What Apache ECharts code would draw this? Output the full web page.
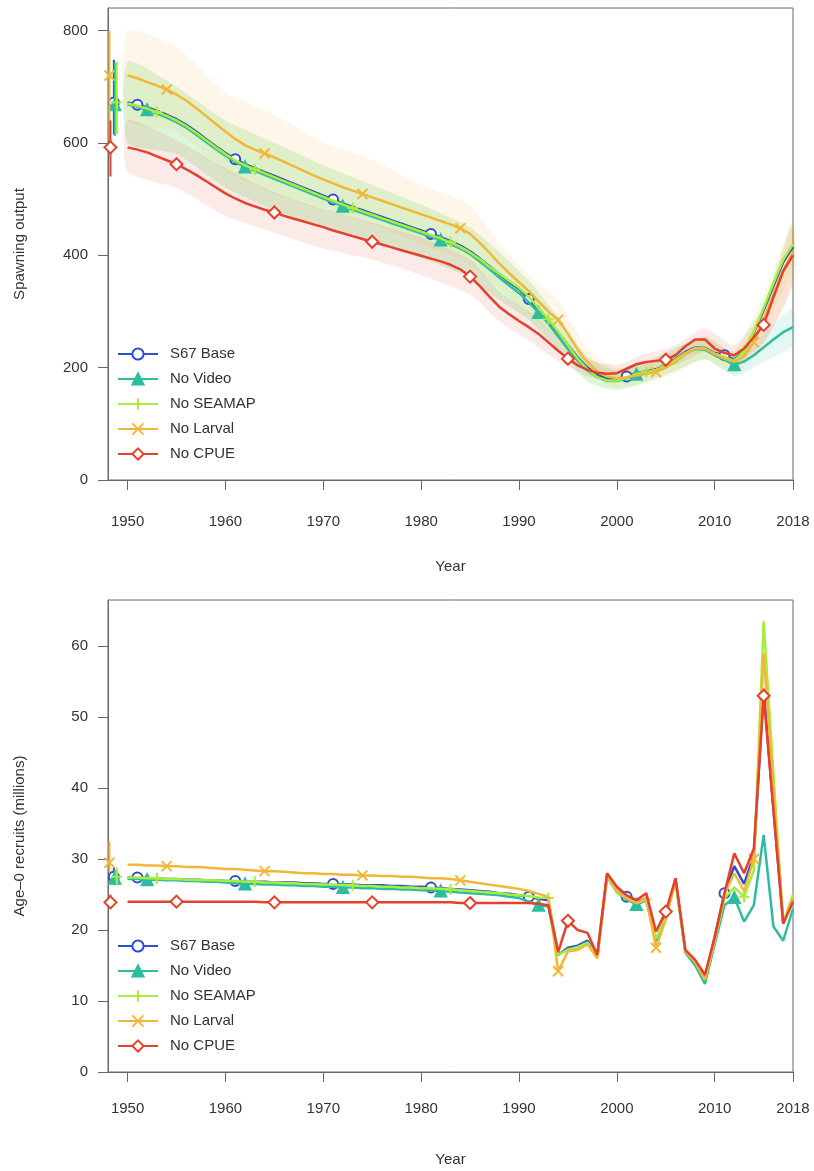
<!DOCTYPE html>
<html lang="en">
<head>
<meta charset="UTF-8" />
<title>Spawning output and recruits</title>
<script src="https://cdn.jsdelivr.net/npm/echarts@6/dist/echarts.min.js"></script>
<style>
  html, body { margin: 0; padding: 0; background: #fff; }
  #main { width: 814px; height: 1171px; }
</style>
</head>
<body>
<div id="main"></div>
<script type="text/javascript">
// model runs
var names = ['S67 Base', 'No Video', 'No SEAMAP', 'No Larval', 'No CPUE'];
var colors = ['#2c50cc', '#2cbd9e', '#a6ee3a', '#f2b63a', '#e6402c'];

var years = [1950, 1951, 1952, 1953, 1954, 1955, 1956, 1957, 1958, 1959,
  1960, 1961, 1962, 1963, 1964, 1965, 1966, 1967, 1968, 1969,
  1970, 1971, 1972, 1973, 1974, 1975, 1976, 1977, 1978, 1979,
  1980, 1981, 1982, 1983, 1984, 1985, 1986, 1987, 1988, 1989,
  1990, 1991, 1992, 1993, 1994, 1995, 1996, 1997, 1998, 1999,
  2000, 2001, 2002, 2003, 2004, 2005, 2006, 2007, 2008, 2009,
  2010, 2011, 2012, 2013, 2014, 2015, 2016, 2017, 2018];

// years where each run gets a point marker
var markYears = [
  [1951, 1961, 1971, 1981, 1991, 2001, 2011],
  [1952, 1962, 1972, 1982, 1992, 2002, 2012],
  [1953, 1963, 1973, 1983, 1993, 2003, 2013],
  [1954, 1964, 1974, 1984, 1994, 2004, 2014],
  [1955, 1965, 1975, 1985, 1995, 2005, 2015]
];

// --- spawning output ---
var spawnBase = [672, 668, 663, 657, 650, 642, 632, 620, 607, 594,
  582, 571, 562, 555, 548, 541, 534, 527, 520, 513,
  506, 499, 492, 486, 480, 474, 468, 462, 456, 450,
  444, 438, 432, 425, 417, 407, 394, 380, 366, 352,
  340, 322, 302, 282, 262, 240, 218, 200, 187, 180,
  180, 184, 190, 193, 197, 205, 215, 228, 236, 235,
  226, 222, 214, 230, 262, 302, 345, 388, 415];
var spawnVideo = [668, 664, 659, 652, 645, 637, 627, 615, 602, 589,
  577, 566, 557, 550, 543, 536, 529, 522, 515, 508,
  501, 494, 487, 481, 475, 469, 463, 457, 451, 445,
  439, 433, 427, 420, 412, 402, 389, 375, 360, 346,
  333, 316, 298, 278, 256, 233, 212, 195, 183, 176,
  176, 181, 188, 191, 195, 203, 213, 225, 233, 232,
  222, 214, 205, 211, 222, 236, 250, 263, 272];
var spawnSeamap = [670, 666, 661, 655, 648, 640, 630, 618, 605, 592,
  580, 569, 560, 553, 546, 539, 532, 525, 518, 511,
  504, 497, 490, 484, 478, 472, 466, 460, 454, 448,
  442, 436, 430, 423, 415, 405, 393, 379, 367, 354,
  342, 326, 306, 286, 264, 240, 216, 197, 183, 177,
  177, 182, 189, 192, 196, 204, 214, 226, 235, 234,
  225, 219, 212, 230, 264, 306, 350, 392, 420];
var spawnLarval = [720, 715, 708, 702, 695, 686, 675, 662, 648, 634,
  620, 607, 596, 588, 581, 574, 566, 558, 550, 542,
  535, 528, 521, 515, 509, 503, 497, 491, 485, 479,
  473, 467, 461, 455, 448, 438, 422, 404, 385, 368,
  352, 336, 318, 300, 285, 260, 232, 210, 193, 184,
  181, 183, 186, 189, 192, 200, 210, 224, 234, 234,
  224, 216, 210, 220, 245, 285, 330, 372, 405];
var spawnCpue = [592, 588, 583, 576, 569, 562, 553, 543, 532, 521,
  510, 501, 493, 487, 481, 476, 470, 465, 460, 455,
  450, 444, 439, 434, 429, 424, 419, 414, 409, 404,
  399, 394, 389, 383, 375, 362, 345, 326, 308, 295,
  283, 272, 260, 245, 230, 216, 204, 196, 191, 189,
  190, 198, 206, 210, 212, 214, 222, 238, 250, 250,
  234, 226, 222, 234, 254, 276, 325, 372, 400];

// confidence bands (sparser years)
var bandYears = [1950, 1955, 1960, 1965, 1970, 1975, 1980, 1985, 1988, 1991,
  1994, 1997, 2000, 2003, 2006, 2009, 2012, 2015, 2018];
var videoLo  = [600, 580, 520, 480, 450, 425, 395, 360, 320, 285, 230, 175, 160, 175, 195, 215, 185, 210, 240];
var videoHi  = [745, 700, 640, 600, 560, 525, 490, 450, 405, 355, 290, 220, 195, 210, 235, 255, 225, 262, 305];
var seamapLo = [600, 580, 520, 480, 450, 425, 395, 360, 320, 285, 230, 175, 160, 175, 195, 215, 190, 270, 380];
var seamapHi = [745, 700, 640, 600, 560, 525, 490, 450, 405, 355, 290, 220, 195, 210, 235, 255, 230, 330, 460];
var larvalLo = [640, 620, 550, 510, 480, 455, 420, 385, 340, 295, 250, 190, 165, 172, 190, 215, 190, 240, 350];
var larvalHi = [800, 770, 690, 650, 600, 570, 525, 490, 420, 365, 320, 235, 200, 212, 230, 255, 230, 310, 465];
var cpueLo   = [548, 520, 470, 440, 412, 392, 365, 330, 282, 248, 212, 185, 175, 195, 205, 228, 205, 245, 350];
var cpueHi   = [640, 605, 555, 512, 482, 458, 432, 392, 335, 300, 255, 215, 205, 225, 240, 270, 240, 310, 455];

// virgin spawning output (value, low, high) plotted left of 1950
var virginX = [1948.6, 1948.7, 1948.9, 1948.15, 1948.25];
var spawnVirgin = [672, 668, 672, 720, 592];
var spawnVirginLo = [615, 612, 616, 604, 540];
var spawnVirginHi = [748, 742, 745, 800, 640];

// --- age-0 recruits (millions) ---
var recBase = [27.4, 27.4, 27.3, 27.3, 27.2, 27.2, 27.1, 27.1, 27.0, 27.0,
  26.9, 26.9, 26.8, 26.8, 26.8, 26.7, 26.7, 26.7, 26.6, 26.6,
  26.5, 26.5, 26.4, 26.4, 26.3, 26.3, 26.3, 26.2, 26.2, 26.1,
  26.1, 26.0, 25.9, 25.8, 25.7, 25.6, 25.5, 25.4, 25.2, 25.1,
  24.9, 24.7, 24.4, 24.2, 16.5, 17.5, 17.8, 18.5, 16.3, 27.8,
  25.5, 24.7, 24.0, 24.5, 18.5, 22.0, 27.2, 17.0, 15.6, 13.2,
  19.0, 25.2, 29.0, 26.5, 30.5, 54.0, 37.0, 21.0, 24.5];
var recVideo = [27.2, 27.2, 27.1, 27.1, 27.0, 27.0, 26.9, 26.9, 26.8, 26.8,
  26.7, 26.6, 26.5, 26.5, 26.4, 26.4, 26.3, 26.3, 26.2, 26.2,
  26.1, 26.1, 26.0, 26.0, 25.9, 25.9, 25.8, 25.8, 25.7, 25.7,
  25.6, 25.6, 25.5, 25.4, 25.3, 25.2, 25.1, 25.0, 24.9, 24.7,
  24.5, 24.0, 23.5, 23.3, 16.5, 17.3, 17.6, 18.3, 16.2, 27.5,
  25.3, 24.3, 23.6, 24.2, 18.5, 21.7, 27.0, 16.8, 15.0, 12.4,
  18.0, 23.5, 24.6, 21.2, 23.5, 33.4, 20.5, 18.5, 23.0];
var recSeamap = [27.4, 27.4, 27.3, 27.3, 27.2, 27.2, 27.1, 27.1, 27.0, 27.0,
  26.9, 26.9, 26.8, 26.8, 26.7, 26.7, 26.6, 26.6, 26.5, 26.5,
  26.4, 26.4, 26.3, 26.3, 26.2, 26.2, 26.1, 26.1, 26.0, 26.0,
  25.9, 25.9, 25.8, 25.7, 25.6, 25.5, 25.4, 25.3, 25.2, 25.0,
  24.9, 24.8, 24.6, 24.5, 16.5, 17.2, 17.6, 18.2, 16.2, 27.6,
  25.3, 24.5, 23.8, 24.3, 18.8, 21.8, 27.0, 17.0, 15.5, 13.0,
  18.5, 24.5, 26.0, 24.7, 28.4, 63.5, 42.0, 21.0, 25.0];
var recLarval = [29.2, 29.2, 29.1, 29.1, 29.0, 29.0, 28.9, 28.9, 28.8, 28.7,
  28.6, 28.6, 28.5, 28.4, 28.3, 28.3, 28.2, 28.1, 28.0, 28.0,
  27.9, 27.9, 27.8, 27.8, 27.7, 27.7, 27.6, 27.6, 27.5, 27.5,
  27.4, 27.3, 27.3, 27.2, 27.0, 26.8, 26.6, 26.4, 26.2, 26.0,
  25.8, 25.5, 25.1, 24.7, 14.2, 17.0, 17.2, 18.0, 16.0, 27.8,
  25.5, 24.5, 23.8, 24.5, 17.5, 21.5, 27.0, 17.0, 15.5, 13.0,
  18.5, 25.0, 28.0, 25.5, 30.0, 59.0, 40.0, 21.0, 24.5];
var recCpue = [24.0, 24.0, 24.0, 24.0, 24.0, 24.0, 24.0, 24.0, 24.0, 24.0,
  24.0, 24.0, 24.0, 24.0, 23.9, 23.9, 23.9, 23.9, 23.9, 23.9,
  23.9, 23.9, 23.9, 23.9, 23.9, 23.9, 23.9, 23.9, 23.9, 23.9,
  23.9, 23.9, 23.9, 23.9, 23.8, 23.8, 23.8, 23.8, 23.8, 23.8,
  23.8, 23.8, 23.7, 23.5, 16.9, 21.3, 20.0, 19.6, 16.5, 28.0,
  26.1, 24.9, 24.2, 25.2, 19.8, 22.6, 27.3, 17.2, 15.8, 13.7,
  19.0, 25.2, 30.8, 28.0, 31.5, 53.0, 37.0, 20.9, 24.0];

var recVirgin = [27.5, 27.3, 27.5, 29.5, 23.9];
var recVirginLo = [26.5, 26.3, 26.5, 28.2, 23.0];
var recVirginHi = [28.8, 28.5, 28.8, 32.5, 25.0];

var xTicks = [1950, 1960, 1970, 1980, 1990, 2000, 2010, 2018];
var spawnTicks = [0, 200, 400, 600, 800];
var recTicks = [0, 10, 20, 30, 40, 50, 60];

var symbols = ['emptyCircle', 'triangle', 'path://M5,0L5,10M0,5L10,5',
  'path://M0,0L10,10M10,0L0,10', 'emptyDiamond'];
var symbolSizes = [10, 11, 11, 10, 12];

var FONT = 'Liberation Sans, Arial, sans-serif';
var TEXT = '#333';
var FRAME = '#666';

function runSeries(k, vals, idx) {
  var data = years.map(function (yr, i) {
    var item = { value: [yr, vals[i]] };
    if (markYears[k].indexOf(yr) < 0) item.symbol = 'none';
    return item;
  });
  return {
    name: names[k], type: 'line', xAxisIndex: idx, yAxisIndex: idx,
    data: data, symbol: symbols[k], symbolSize: symbolSizes[k],
    lineStyle: { width: 2.5, color: colors[k] },
    itemStyle: { color: colors[k], borderColor: colors[k], borderWidth: 2 },
    z: 5 + k
  };
}

function virginSeries(k, v, lo, hi, idx) {
  return {
    name: 'virgin' + idx + '_' + k, type: 'line', xAxisIndex: idx, yAxisIndex: idx,
    clip: false, symbol: symbols[k], symbolSize: symbolSizes[k],
    data: [
      { value: [virginX[k], lo[k]], symbol: 'none' },
      { value: [virginX[k], v[k]] },
      { value: [virginX[k], hi[k]], symbol: 'none' }
    ],
    lineStyle: { width: 2, color: colors[k] },
    itemStyle: { color: colors[k], borderColor: colors[k], borderWidth: 2 },
    z: 5 + k
  };
}

// shaded interval: one polygon, upper edge forward then lower edge back
function bandSeries(key, lo, hi, color) {
  return {
    name: key, type: 'custom', xAxisIndex: 0, yAxisIndex: 0, silent: true, z: 1,
    data: [[bandYears[0], lo[0]]],
    renderItem: function (params, api) {
      var pts = [];
      for (var i = 0; i < bandYears.length; i++) pts.push(api.coord([bandYears[i], hi[i]]));
      for (var j = bandYears.length - 1; j >= 0; j--) pts.push(api.coord([bandYears[j], lo[j]]));
      return { type: 'polygon', shape: { points: pts, smooth: 0.2 }, style: { fill: color } };
    }
  };
}

function xAxisFor(idx, gap, margin) {
  return {
    gridIndex: idx, type: 'value', min: 1948, max: 2018,
    name: 'Year', nameLocation: 'middle', nameGap: gap,
    nameTextStyle: { fontSize: 15, color: TEXT, fontFamily: FONT },
    axisLine: { show: true, lineStyle: { color: FRAME, width: 1 } },
    axisTick: { show: true, length: 10, customValues: xTicks, lineStyle: { color: FRAME } },
    axisLabel: { customValues: xTicks, margin: margin, fontSize: 15, color: TEXT, fontFamily: FONT,
      formatter: function (v) { return String(v); } },
    splitLine: { show: false }
  };
}

function yAxisFor(idx, max, ticks, title) {
  return {
    gridIndex: idx, type: 'value', min: 0, max: max,
    name: title, nameLocation: 'middle', nameGap: 81, nameRotate: 90,
    nameTextStyle: { fontSize: 15, color: TEXT, fontFamily: FONT },
    axisLine: { show: true, lineStyle: { color: FRAME, width: 1 } },
    axisTick: { show: true, length: 10, customValues: ticks, lineStyle: { color: FRAME } },
    axisLabel: { customValues: ticks, margin: 20, fontSize: 15, color: TEXT, fontFamily: FONT },
    splitLine: { show: false }
  };
}

function legendFor(top) {
  return {
    data: names, orient: 'vertical', left: 112, top: top,
    itemWidth: 40, itemHeight: 14, itemGap: 7,
    textStyle: { fontSize: 15, color: TEXT, fontFamily: FONT, lineHeight: 18, padding: [0, 0, 0, 7] },
    selectedMode: false
  };
}

var series = [
  bandSeries('bandVideo', videoLo, videoHi, 'rgba(44,189,158,0.12)'),
  bandSeries('bandSeamap', seamapLo, seamapHi, 'rgba(166,238,58,0.13)'),
  bandSeries('bandLarval', larvalLo, larvalHi, 'rgba(242,182,58,0.11)'),
  bandSeries('bandCpue', cpueLo, cpueHi, 'rgba(230,64,44,0.11)')
];

var spawnRuns = [spawnBase, spawnVideo, spawnSeamap, spawnLarval, spawnCpue];
var recRuns = [recBase, recVideo, recSeamap, recLarval, recCpue];
for (var k = 0; k < names.length; k++) {
  series.push(runSeries(k, spawnRuns[k], 0));
  series.push(virginSeries(k, spawnVirgin, spawnVirginLo, spawnVirginHi, 0));
  series.push(runSeries(k, recRuns[k], 1));
  series.push(virginSeries(k, recVirgin, recVirginLo, recVirginHi, 1));
}

var myChart = echarts.init(document.getElementById('main'), null, { renderer: 'canvas' });
var option = {
  animation: false,
  backgroundColor: '#fff',
  textStyle: { fontFamily: FONT },
  grid: [
    { left: 108, top: 8, width: 685, height: 472, show: true, borderColor: FRAME, borderWidth: 1,
      outerBoundsMode: 'none' },
    { left: 108, top: 600, width: 685, height: 472, show: true, borderColor: FRAME, borderWidth: 1,
      outerBoundsMode: 'none' }
  ],
  legend: [legendFor(340), legendFor(932)],
  xAxis: [xAxisFor(0, 79, 34), xAxisFor(1, 80, 29)],
  yAxis: [
    yAxisFor(0, 840, spawnTicks, 'Spawning output'),
    yAxisFor(1, 66.5, recTicks, 'Age\u20130 recruits (millions)')
  ],
  series: series
};
myChart.setOption(option);
</script>
</body>
</html>
